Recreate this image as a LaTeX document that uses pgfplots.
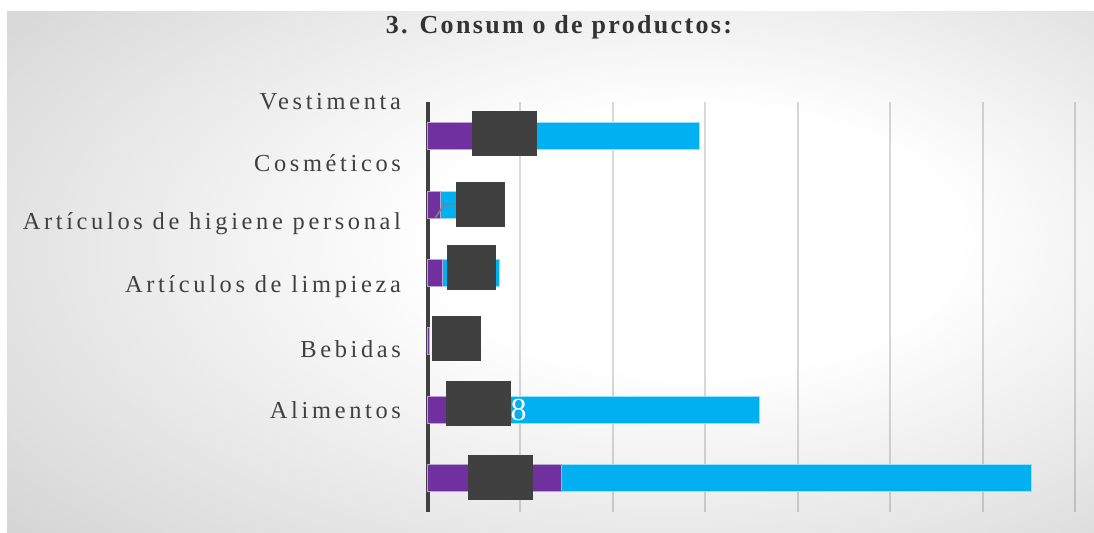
\documentclass[border=0pt]{standalone}
\usepackage{fontspec}
\setmainfont{Liberation Serif}
\newfontfamily\spaced[LetterSpace=15]{Liberation Serif}
\newfontfamily\spacedt[LetterSpace=9]{Liberation Serif}
\usepackage{pgfplots}
\pgfplotsset{compat=1.18}
\definecolor{purp}{HTML}{7030A0}
\definecolor{cy}{HTML}{00B0F0}
\definecolor{boxg}{HTML}{404040}
\definecolor{txt}{HTML}{404040}
\pgfdeclareradialshading{bgshade}{\pgfpoint{8bp}{5bp}}{color(0bp)=(white); color(12bp)=(white); color(50bp)=(black!24); color(72bp)=(black!30)}
\begin{document}
\begin{tikzpicture}
\fill[white] (0,0) rectangle (547pt,-280pt);
\shade[shading=bgshade] (3.5pt,-5.5pt) rectangle (547pt,-280pt);
\node[font=\spacedt\bfseries\fontsize{13}{15}\selectfont, text=black!80] at (279.5pt,-13.5pt) {3. Consum o de productos:};
\begin{axis}[
  at={(214pt,-256pt)}, anchor=south west,
  scale only axis, width=323.5pt, height=205pt,
  xmin=0, xmax=7, ymin=0, ymax=6, y dir=reverse,
  xbar stacked, bar width=13.5pt,
  axis lines*=left,
  x axis line style={draw=none},
  y axis line style={boxg, line width=1.6pt},
  xmajorgrids, grid style={black, opacity=0.15, line width=1pt},
  xtick={1,2,3,4,5,6,7}, xticklabels={},
  xticklabel style={overlay, inner sep=0pt},
  major tick length=0pt,
  ytick={0,0.893,1.785,2.707,3.615,4.508,5.42},
  yticklabels={Vestimenta,Cosméticos,Artículos de higiene personal,Artículos de limpieza,Bebidas,Alimentos,{}},
  yticklabel style={font=\spaced\fontsize{12.2}{14}\selectfont, text=txt, anchor=east, xshift=-10pt},
  clip=false,
]
\addplot[fill=purp, draw=purp!45!white, line width=0.5pt] coordinates {(1.12,0.5) (0.14,1.5) (0.16,2.5) (0.02,3.5) (0.86,4.5) (1.44,5.5)};
\addplot[fill=cy, draw=cy!40!white, line width=0.5pt] coordinates {(1.82,0.5) (0.30,1.5) (0.61,2.5) (0,3.5) (2.73,4.5) (5.09,5.5)};
\end{axis}
\begin{axis}[
  at={(214pt,-256pt)}, anchor=south west,
  scale only axis, width=323.5pt, height=205pt,
  xmin=0, xmax=7, ymin=0, ymax=6, y dir=reverse,
  hide axis, clip=false,
]
\addplot[gray, line width=0.8pt, mark=none] coordinates {(0.076,1.70) (0.18,1.49) (0.30,1.49)};
\addplot[only marks, mark=none, nodes near coords, point meta=explicit symbolic,
  nodes near coords style={anchor=west, text=white, font=\fontsize{16}{16}\selectfont, inner sep=0pt}]
  coordinates {(0.89,4.5) [8]};
\addplot[only marks, mark=none, nodes near coords={},
  nodes near coords style={anchor=center, fill=boxg, minimum width=32.5pt, minimum height=22.5pt, inner sep=0pt}]
  coordinates {(0.83,0.46) (0.55,4.41) (0.784,5.495)};
\addplot[only marks, mark=none, nodes near coords={},
  nodes near coords style={anchor=center, fill=boxg, minimum width=24.5pt, minimum height=22.5pt, inner sep=0pt}]
  coordinates {(0.57,1.50) (0.47,2.42) (0.31,3.46)};
\end{axis}
\pgfresetboundingbox
\useasboundingbox (0,0) rectangle (547pt,-266pt);
\end{tikzpicture}
\end{document}
